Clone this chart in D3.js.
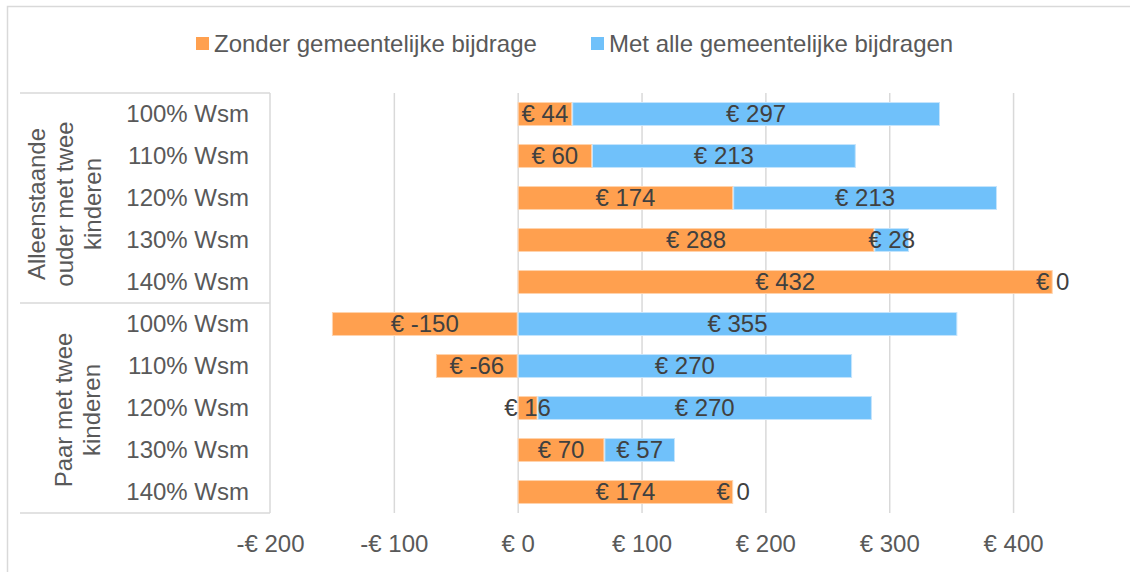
<!DOCTYPE html>
<html>
<head>
<meta charset="utf-8">
<script src="https://cdn.jsdelivr.net/npm/d3@7"></script>
<style>
  body { margin: 0; background: #fff; }
  svg { display: block; font-family: "Liberation Sans", Arial, sans-serif; }
</style>
</head>
<body>
<svg id="chart" width="1130" height="572"></svg>
<script>
// chart values
const groups = [
  { name: ['Alleenstaande', 'ouder met twee', 'kinderen'], rows: 5 },
  { name: ['Paar met twee', 'kinderen'], rows: 5 }
];
const rowLabels = ['100% Wsm', '110% Wsm', '120% Wsm', '130% Wsm', '140% Wsm'];
const seriesNames = ['Zonder gemeentelijke bijdrage', 'Met alle gemeentelijke bijdragen'];
const zonder = [44, 60, 174, 288, 432, -150, -66, 16, 70, 174];
const metAlle = [297, 213, 213, 28, 0, 355, 270, 270, 57, 0];
const xTicks = [-200, -100, 0, 100, 200, 300, 400];

const colors = ['#ffa04f', '#70c1fa'];
const fontSize = 24;

const rows = zonder.map((z, i) => ({ id: i, zonder: z, met: metAlle[i] }));

const svg = d3.select('#chart');

const margin = { top: 93, left: 270, bottom: 513, right: 1075 };

const x = d3.scaleLinear()
  .domain([-200, 450])
  .range([margin.left, margin.right]);

const y = d3.scaleBand()
  .domain(rows.map(d => d.id))
  .range([margin.top, margin.bottom])
  .paddingInner(0.43)
  .paddingOuter(0.215);

// outer border
svg.append('rect')
  .attr('x', 7.5).attr('y', 6.5)
  .attr('width', 1140).attr('height', 600)
  .attr('fill', 'none')
  .attr('stroke', '#d9d9d9')
  .attr('stroke-width', 1.5);

// legend
const legend = svg.append('g');
const legendX = [196, 591];
seriesNames.forEach((name, i) => {
  legend.append('rect')
    .attr('x', legendX[i]).attr('y', 37)
    .attr('width', 13).attr('height', 13)
    .attr('fill', colors[i]);
  legend.append('text')
    .attr('x', legendX[i] + 18).attr('y', 52)
    .attr('font-size', fontSize)
    .attr('fill', '#595959')
    .text(name);
});

// gridlines and tick labels
const xAxis = svg.append('g')
  .attr('transform', `translate(0,${margin.bottom})`)
  .call(d3.axisBottom(x)
    .tickValues(xTicks)
    .tickSize(margin.top - margin.bottom)
    .tickPadding(0)
    .tickFormat(d => d < 0 ? `-€ ${-d}` : `€ ${d}`));

xAxis.select('.domain').remove();
xAxis.selectAll('.tick line')
  .attr('stroke', '#d9d9d9')
  .attr('stroke-width', 1.5)
  .filter(d => d === -200).remove();
xAxis.selectAll('.tick text')
  .attr('font-size', fontSize)
  .attr('fill', '#595959')
  .attr('dy', null)
  .attr('y', 39);

// stacked bars (negative values stack away from zero)
const stack = d3.stack()
  .keys(['zonder', 'met'])
  .offset(d3.stackOffsetDiverging);
const series = stack(rows);

// a zero segment sits at the end of the segment before it
series.forEach((s, si) => {
  s.forEach((d, i) => {
    if (si > 0 && d.data[s.key] === 0) {
      const prev = series[si - 1][i];
      d[0] = d[1] = prev.data[series[si - 1].key] < 0 ? prev[0] : prev[1];
    }
  });
});

const bars = svg.append('g');
series.forEach((s, si) => {
  bars.append('g')
    .attr('fill', colors[si])
    .attr('stroke', si === 0 ? '#ffd3ad' : '#c4e4fc')
    .attr('stroke-width', 1)
    .selectAll('rect')
    .data(s.filter(d => d[1] !== d[0]))
    .join('rect')
    .attr('x', d => x(Math.min(d[0], d[1])) + 0.5)
    .attr('y', d => y(d.data.id) + 0.5)
    .attr('width', d => Math.max(0, Math.abs(x(d[1]) - x(d[0])) - 1))
    .attr('height', y.bandwidth() - 1);
});

// data labels
const labels = svg.append('g')
  .attr('font-size', fontSize)
  .attr('fill', '#404040')
  .attr('text-anchor', 'middle');
series.forEach(s => {
  labels.selectAll(null)
    .data(s)
    .join('text')
    .attr('x', d => x((d[0] + d[1]) / 2))
    .attr('y', d => y(d.data.id) + y.bandwidth() / 2)
    .attr('dy', '0.35em')
    .text(d => `€ ${d.data[s.key]}`);
});

// category table on the left
const table = svg.append('g')
  .attr('stroke', '#d9d9d9')
  .attr('stroke-width', 1.5);
table.append('line')
  .attr('x1', margin.left).attr('x2', margin.left)
  .attr('y1', margin.top).attr('y2', margin.bottom);

let start = 0;
const groupLineX = [[37, 65, 93], [64, 92]];
const groupShift = [6, 2];
groups.forEach((g, gi) => {
  const top = margin.top + (margin.bottom - margin.top) * start / rows.length;
  const bottom = margin.top + (margin.bottom - margin.top) * (start + g.rows) / rows.length;
  table.append('line')
    .attr('x1', 20).attr('x2', margin.left)
    .attr('y1', top).attr('y2', top);
  if (gi === groups.length - 1) {
    table.append('line')
      .attr('x1', 20).attr('x2', margin.left)
      .attr('y1', bottom).attr('y2', bottom);
  }
  const cy = (top + bottom) / 2 + groupShift[gi];
  g.name.forEach((line, li) => {
    svg.append('text')
      .attr('transform', `translate(${groupLineX[gi][li]},${cy}) rotate(-90)`)
      .attr('text-anchor', 'middle')
      .attr('dy', '0.35em')
      .attr('font-size', fontSize)
      .attr('fill', '#595959')
      .text(line);
  });
  start += g.rows;
});

svg.append('g')
  .selectAll('text')
  .data(rows)
  .join('text')
  .attr('x', 249)
  .attr('y', d => y(d.id) + y.bandwidth() / 2)
  .attr('dy', '0.35em')
  .attr('text-anchor', 'end')
  .attr('font-size', fontSize)
  .attr('fill', '#595959')
  .text(d => rowLabels[d.id % rowLabels.length]);
</script>
</body>
</html>
